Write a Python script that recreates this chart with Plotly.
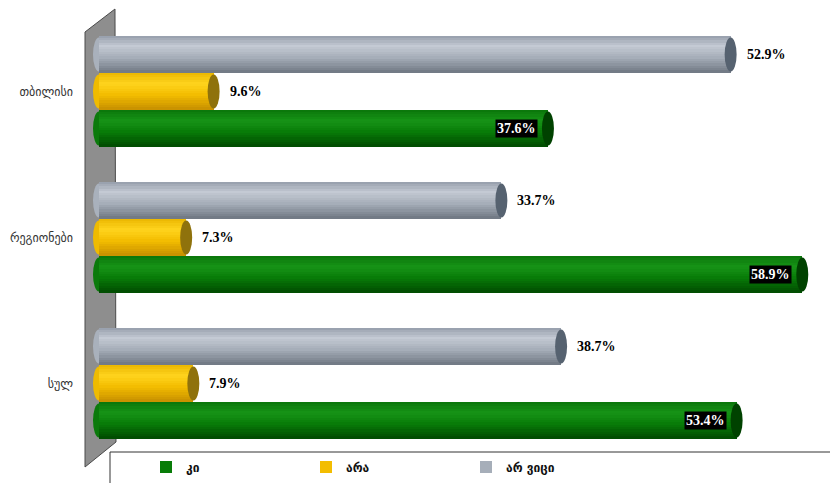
import plotly.graph_objects as go

# Survey answers by region (percent)
categories = ["თბილისი", "რეგიონები", "სულ"]
series_names = ["კი", "არა", "არ ვიცი"]
yes_vals = [37.6, 58.9, 53.4]
no_vals = [9.6, 7.3, 7.9]
dont_know_vals = [52.9, 33.7, 38.7]

W, H = 830, 483
L, R, T, B = 92, 0, 0, 0
PX_PER_UNIT = 11.94          # horizontal pixels per percent
ZERO_PX = 99                 # pixel column of the 0% baseline
GROUP_PX = 146               # vertical spacing of the category groups
FIRST_CENTER_PX = 91.5       # centre of the first group

bar_w = 0.2534               # bar thickness in group units
rx = 6.0 / PX_PER_UNIT       # half-width of the cylinder end caps

x_lo = -(ZERO_PX - L) / PX_PER_UNIT
x_hi = (W - R - ZERO_PX) / PX_PER_UNIT
y_top = -FIRST_CENTER_PX / GROUP_PX
y_bot = (H - FIRST_CENTER_PX) / GROUP_PX


def px_x(p):
    return (p - L) / (W - L - R)


def px_y(p):
    return 1 - (p - T) / (H - T - B)


def hex_to_rgb(h):
    h = h.lstrip("#")
    return tuple(int(h[i:i + 2], 16) for i in (0, 2, 4))


def ramp(stops, t):
    for (t0, c0), (t1, c1) in zip(stops, stops[1:]):
        if t0 <= t <= t1:
            f = (t - t0) / (t1 - t0) if t1 > t0 else 0
            a, b = hex_to_rgb(c0), hex_to_rgb(c1)
            return "rgb(%d,%d,%d)" % tuple(round(a[i] + (b[i] - a[i]) * f) for i in range(3))
    return stops[-1][1]


# vertical shading of each cylinder, top (0) to bottom (1)
styles = {
    "კი": dict(vals=yes_vals, offset=1,
               stops=[(0, "#0a750a"), (0.3, "#179417"), (0.6, "#087c08"), (1, "#004a00")],
               cap="#004200", left="#0b7a0b", inside=True),
    "არა": dict(vals=no_vals, offset=0,
                stops=[(0, "#eab600"), (0.3, "#ffd41e"), (0.6, "#f3bd00"), (1, "#c68f00")],
                cap="#8f720c", left="#efbb00", inside=False),
    "არ ვიცი": dict(vals=dont_know_vals, offset=-1,
                    stops=[(0, "#959daa"), (0.28, "#c4cad4"), (0.6, "#a5adb8"), (1, "#6f7782")],
                    cap="#566270", left="#a9b1bc", inside=False),
}

N_SLICES = 16
fig = go.Figure()
shapes = []
annotations = []

# wall on the left of the bars
shapes.append(dict(
    type="path", xref="paper", yref="paper", layer="below",
    path="M %f %f L %f %f L %f %f L %f %f Z" % (
        px_x(85), px_y(32), px_x(115), px_y(9),
        px_x(116), px_y(442), px_x(85), px_y(467)),
    fillcolor="#8e8e8e", line=dict(color="#4a4a4a", width=1)))

for name in series_names:
    st = styles[name]
    centers = [i + st["offset"] * bar_w for i in range(len(categories))]
    for k in range(N_SLICES):
        t = (k + 0.5) / N_SLICES
        ys = [c - bar_w / 2 + t * bar_w for c in centers]
        fig.add_trace(go.Bar(
            x=st["vals"], y=ys, orientation="h", base=0,
            width=bar_w / N_SLICES * 1.35,
            marker=dict(color=ramp(st["stops"], t), line=dict(width=0)),
            name=name, legendgroup=name,
            showlegend=(k == int(N_SLICES * 0.62)),
            hoverinfo="skip"))
    for c, v in zip(centers, st["vals"]):
        # rounded start of the cylinder
        shapes.append(dict(type="circle", xref="x", yref="y", layer="below",
                           x0=-rx, x1=rx, y0=c - bar_w / 2 + 0.01, y1=c + bar_w / 2 - 0.01,
                           fillcolor=st["left"], line=dict(width=0)))
        # darker end cap
        shapes.append(dict(type="circle", xref="x", yref="y", layer="above",
                           x0=v - rx, x1=v + rx, y0=c - bar_w / 2 + 0.01, y1=c + bar_w / 2 - 0.01,
                           fillcolor=st["cap"], line=dict(width=0)))
        label = f"{v:.1f}%"
        if st["inside"]:
            annotations.append(dict(
                x=v, y=c, xref="x", yref="y", text=f"<b>{label}</b>", showarrow=False,
                xanchor="right", yanchor="middle", xshift=-10,
                bgcolor="black", borderpad=1,
                font=dict(family="Liberation Serif", size=14, color="white")))
        else:
            annotations.append(dict(
                x=v, y=c, xref="x", yref="y", text=f"<b>{label}</b>", showarrow=False,
                xanchor="left", yanchor="middle", xshift=14,
                font=dict(family="Liberation Serif", size=14, color="black")))

# frame around the legend strip
shapes.append(dict(type="rect", xref="paper", yref="paper", layer="above",
                   x0=px_x(110), x1=px_x(W + 20), y0=px_y(H + 20), y1=px_y(452),
                   line=dict(color="#333333", width=1), fillcolor="rgba(0,0,0,0)"))

fig.update_layout(
    width=W, height=H,
    margin=dict(l=L, r=R, t=T, b=B, pad=0),
    paper_bgcolor="white", plot_bgcolor="rgba(0,0,0,0)",
    barmode="overlay", bargap=0,
    shapes=shapes, annotations=annotations,
    xaxis=dict(range=[x_lo, x_hi], visible=False, fixedrange=True),
    yaxis=dict(range=[y_bot, y_top], tickvals=list(range(len(categories))),
               ticktext=categories, showgrid=False, zeroline=False, showline=False,
               ticks="", ticklabelstandoff=18,
               tickfont=dict(family="DejaVu Sans", size=12, color="#333333")),
    showlegend=True,
    legend=dict(orientation="h", x=px_x(146), y=px_y(467), xanchor="left", yanchor="middle",
                entrywidth=115, entrywidthmode="pixels", bgcolor="rgba(0,0,0,0)",
                traceorder="normal", itemclick=False, itemdoubleclick=False,
                itemwidth=30,
                font=dict(family="DejaVu Sans", size=12, color="#111111", weight="bold")),
)

fig.write_html("out.html")
